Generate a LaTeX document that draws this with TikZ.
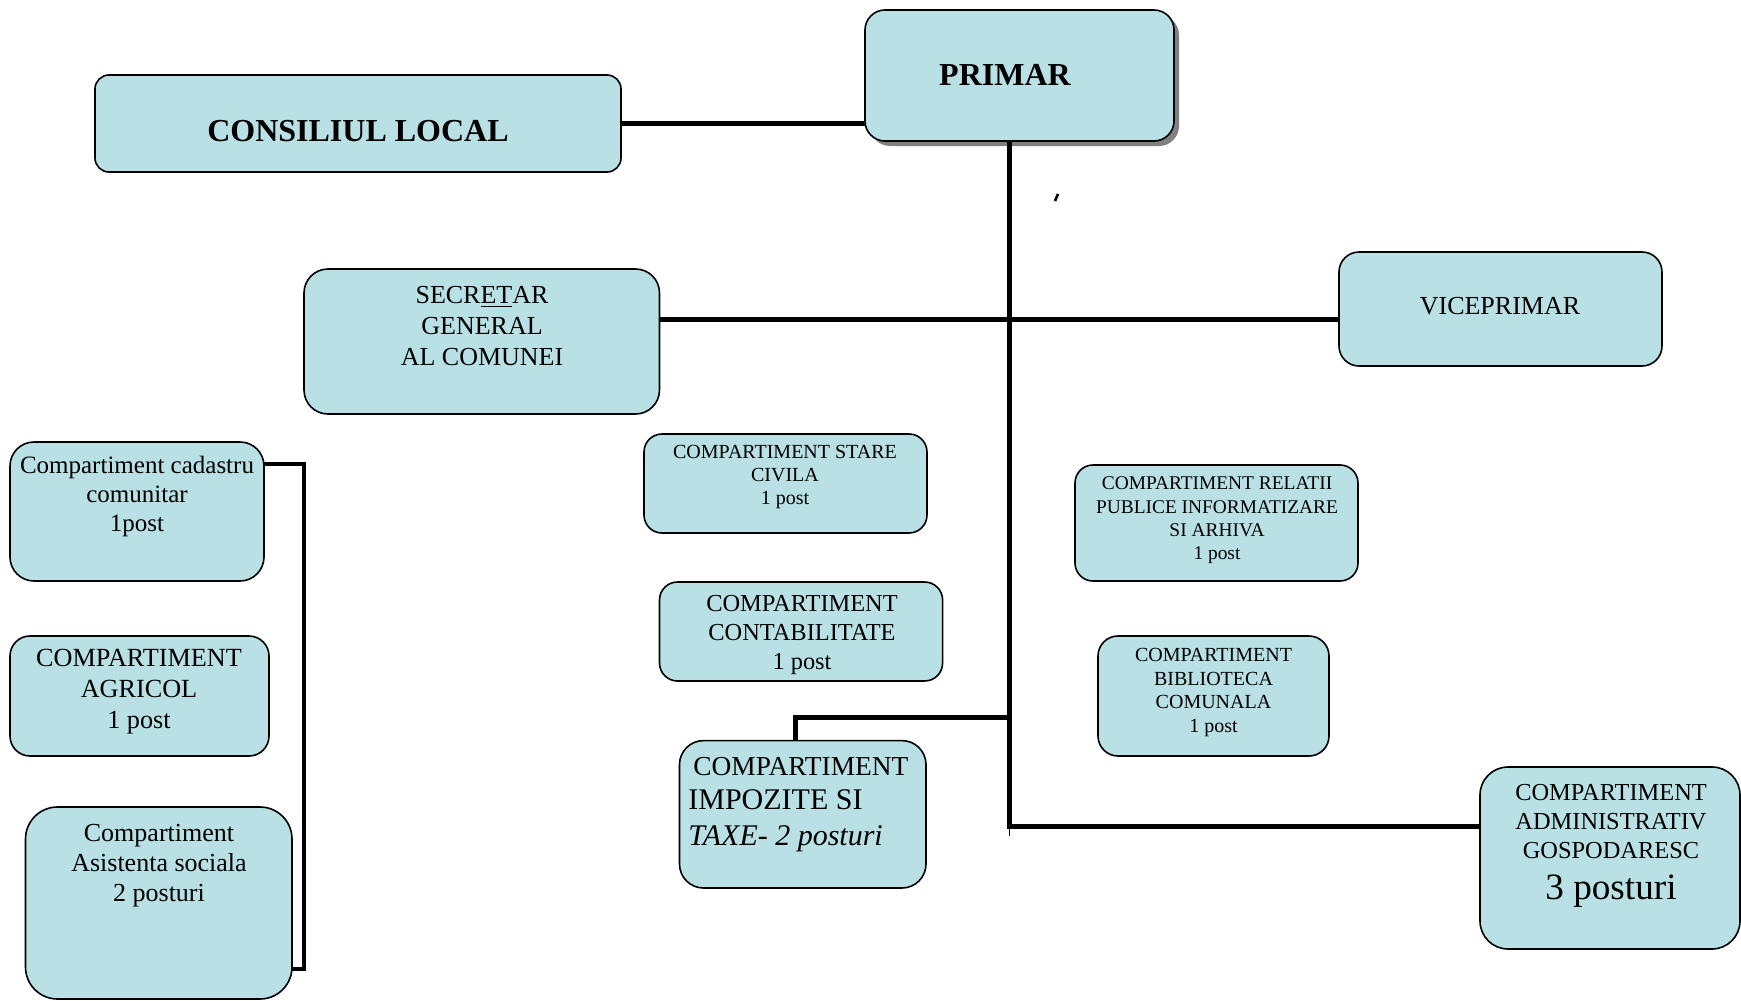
\documentclass[tikz,border=0pt]{standalone}
\usepackage{fontspec}
\setmainfont{Liberation Serif}
\usetikzlibrary{fit,shadows}
\definecolor{boxfill}{RGB}{185,224,228}
\newcommand{\myfs}[2]{\fontsize{#1}{#2}\selectfont}
\begin{document}
\begin{tikzpicture}[x=0.5pt,y=-0.5pt,
  box/.style={draw=black, line width=0.8pt, fill=boxfill, inner sep=0pt, outer sep=0pt},
  conn/.style={line width=2.5pt, line join=miter},
  lbl/.style={inner sep=0pt, align=center, text=black}]
\useasboundingbox (0,0) rectangle (1741,1001);

% boxes
\node[box, rounded corners=7pt, fit={(95,75) (621,172)}] (cons) {};
\node[box, rounded corners=10pt, drop shadow={shadow xshift=2.5pt, shadow yshift=-2.5pt, fill=black!50, opacity=1}, fit={(865,10) (1174,141)}] (prim) {};
\node[box, rounded corners=12pt, fit={(304,269) (659.5,414)}] (sec) {};
\node[box, rounded corners=10pt, fit={(1339,252) (1662,366)}] (vice) {};
\node[box, rounded corners=12pt, fit={(10,442) (264,581)}] (cad) {};
\node[box, rounded corners=10pt, fit={(10,636) (269,756)}] (agr) {};
\node[box, rounded corners=16pt, fit={(25.5,807) (292,999)}] (asi) {};
\node[box, rounded corners=9pt, fit={(644,434) (927,533)}] (stc) {};
\node[box, rounded corners=9pt, fit={(659.5,582) (942.6,681)}] (cont) {};
\node[box, rounded corners=12pt, fit={(679.5,740.6) (926,888)}] (imp) {};
\node[box, rounded corners=9pt, fit={(1075,465) (1358,581)}] (rel) {};
\node[box, rounded corners=10pt, fit={(1098,636) (1329,756)}] (bib) {};
\node[box, rounded corners=14pt, fit={(1480,767) (1740,949)}] (adm) {};

% texts
\node[lbl, font=\myfs{16}{19}\bfseries] (tcons) at (358,131) {CONSILIUL LOCAL};
\node[lbl, font=\myfs{16}{19}\bfseries] (tprim) at (1005,75) {PRIMAR};
\node[lbl, font=\myfs{13}{15.3}] (tsec) at (482,326) {SECR\underline{ET}AR\\GENERAL\\AL COMUNEI};
\node[lbl, font=\myfs{13}{15.3}] (tvice) at (1500,306) {VICEPRIMAR};
\node[lbl, font=\myfs{12.5}{14.5}] (tcad) at (137,496) {Compartiment cadastru\\comunitar\\1post};
\node[lbl, font=\myfs{13.1}{15.5}] (tagr) at (139,692) {COMPARTIMENT\\AGRICOL\\1 post};
\node[lbl, font=\myfs{13}{15}] (tasi) at (159,866) {Compartiment\\Asistenta sociala\\2 posturi};
\node[lbl, font=\myfs{10}{11.5}] (tstc) at (785,477) {COMPARTIMENT STARE\\CIVILA\\1 post};
\node[lbl, font=\myfs{12.2}{14.4}] (tcont) at (802,635) {COMPARTIMENT\\CONTABILITATE\\1 post};
\node[lbl, anchor=base west, font=\myfs{13.7}{16}] (timp1) at (693,775) {COMPARTIMENT};
\node[lbl, anchor=base west, font=\myfs{15}{18}] (timp2) at (688,809) {IMPOZITE SI};
\node[lbl, anchor=base west, font=\myfs{15}{18}\itshape] (timp3) at (688,845) {TAXE- 2 posturi};
\node[lbl, font=\myfs{9.7}{11.7}] (trel) at (1217,520.5) {COMPARTIMENT RELATII\\PUBLICE INFORMATIZARE\\SI ARHIVA\\1 post};
\node[lbl, font=\myfs{10}{11.7}] (tbib) at (1213.5,692.5) {COMPARTIMENT\\BIBLIOTECA\\COMUNALA\\1 post};
\node[lbl, font=\myfs{12.2}{14.4}] (tadm) at (1611,821.5) {COMPARTIMENT\\ADMINISTRATIV\\GOSPODARESC};
\node[lbl, font=\myfs{18.6}{22}] (tadm2) at (1611,891) {3 posturi};

% connectors
\coordinate (hl) at (1009.5,319);
\coordinate (ij) at (1009.5,717);
\coordinate (ijd) at (795,717);
\coordinate (tb) at (1009.5,826);
\coordinate (br1) at (304,464);
\coordinate (br2) at (304,969);
\draw[conn] (cons.east) -- (cons.east -| prim.west);
\draw[conn] (prim.south -| tb) -- (tb) -- (adm.west |- tb);
\draw[conn] (sec.east |- hl) -- (vice.west |- hl);
\draw[conn] (ij) -- (ijd) -- (ijd |- imp.north);
\draw[line width=0.8pt] (tb) -- ++(0,10);
\draw[line width=2.2pt, line join=miter] (cad.east |- br1) -- (br1) -- (br2) -- (asi.east |- br2);
% stray mark
\draw[line width=1.3pt] (1055,201) -- (1058,194);
\end{tikzpicture}
\end{document}
